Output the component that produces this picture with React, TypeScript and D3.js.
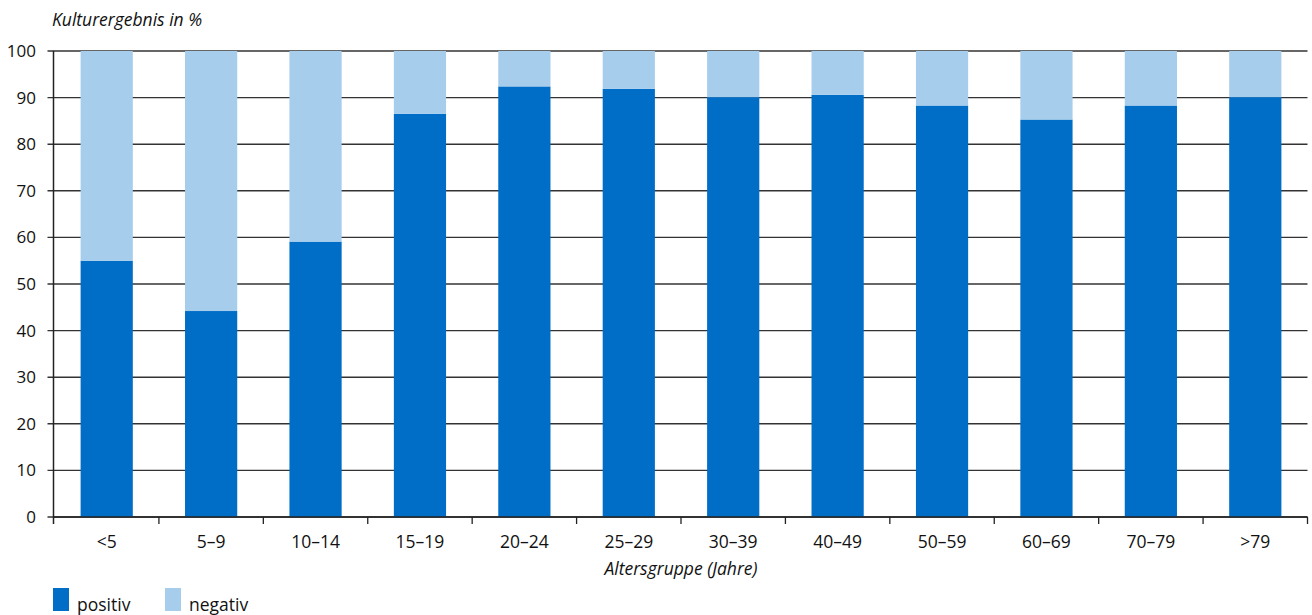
import React from "react";
import * as d3 from "d3";

const categories = ["<5", "5–9", "10–14", "15–19", "20–24", "25–29", "30–39", "40–49", "50–59", "60–69", "70–79", ">79"];
const positiv = [55, 44.2, 59.1, 86.5, 92.4, 91.9, 90.1, 90.6, 88.3, 85.3, 88.3, 90.1];
const negativ = positiv.map((p) => 100 - p);
const yTicks = [0, 10, 20, 30, 40, 50, 60, 70, 80, 90, 100];

const seriesNames = ["positiv", "negativ"];
const colors = ["#006ec7", "#a6cdec"];

const W = 1312;
const H = 615;
const margin = { left: 54.5, right: 4.5, top: 51, bottom: 98 };
const axisX = 53.5;
const font = "'Open Sans', 'Noto Sans', sans-serif";

export default function App() {
  const x = d3
    .scaleBand<string>()
    .domain(categories)
    .range([margin.left, W - margin.right])
    .paddingInner(0.5)
    .paddingOuter(0.25);
  const y = d3.scaleLinear().domain([0, 100]).range([H - margin.bottom, margin.top]);

  const rows = categories.map((c, i) => ({ cat: c, positiv: positiv[i], negativ: negativ[i] }));
  const stacked = d3.stack<any>().keys(seriesNames)(rows);

  const step = x.step();
  const x0 = margin.left;
  const x1 = W - margin.right;

  return (
    <svg
      width={W}
      height={H}
      style={{ position: "absolute", left: 0, top: 0, background: "#fff" }}
      fontFamily={font}
    >
      <text x={52} y={26} fontSize={17.5} fontStyle="italic" fill="#111">
        Kulturergebnis in %
      </text>

      {/* horizontal gridlines */}
      {yTicks.map((t) => (
        <g key={t}>
          <line x1={axisX - 6} x2={x1} y1={y(t)} y2={y(t)} stroke="#333" strokeWidth={1.4} />
          <text x={36} y={y(t) + 6} fontSize={17} textAnchor="end" fill="#111">
            {t}
          </text>
        </g>
      ))}

      {/* stacked bars */}
      {stacked.map((s, si) => (
        <g key={s.key} fill={colors[si]}>
          {s.map((d, i) => (
            <rect
              key={i}
              x={x(categories[i])!}
              width={x.bandwidth()}
              y={y(d[1])}
              height={y(d[0]) - y(d[1])}
            />
          ))}
        </g>
      ))}

      {/* axes */}
      <line x1={axisX} x2={axisX} y1={y(100)} y2={y(0) + 7} stroke="#222" strokeWidth={1.5} />
      <line x1={axisX} x2={x1} y1={y(0)} y2={y(0)} stroke="#222" strokeWidth={1.5} />
      {d3.range(1, categories.length + 1).map((i) => (
        <line
          key={i}
          x1={x0 + i * step}
          x2={x0 + i * step}
          y1={y(0)}
          y2={y(0) + 7}
          stroke="#222"
          strokeWidth={1.3}
        />
      ))}
      {categories.map((c) => (
        <text key={c} x={x(c)! + x.bandwidth() / 2} y={548} fontSize={17.5} textAnchor="middle" fill="#111">
          {c}
        </text>
      ))}
      <text x={(x0 + x1) / 2} y={575} fontSize={17.5} fontStyle="italic" textAnchor="middle" fill="#111">
        Altersgruppe (Jahre)
      </text>

      {/* legend */}
      {seriesNames.map((n, i) => (
        <g key={n} transform={`translate(${53 + i * 112},588)`}>
          <rect x={0} y={0} width={16} height={23} fill={colors[i]} />
          <text x={24} y={23} fontSize={17.5} fill="#111">
            {n}
          </text>
        </g>
      ))}
    </svg>
  );
}
